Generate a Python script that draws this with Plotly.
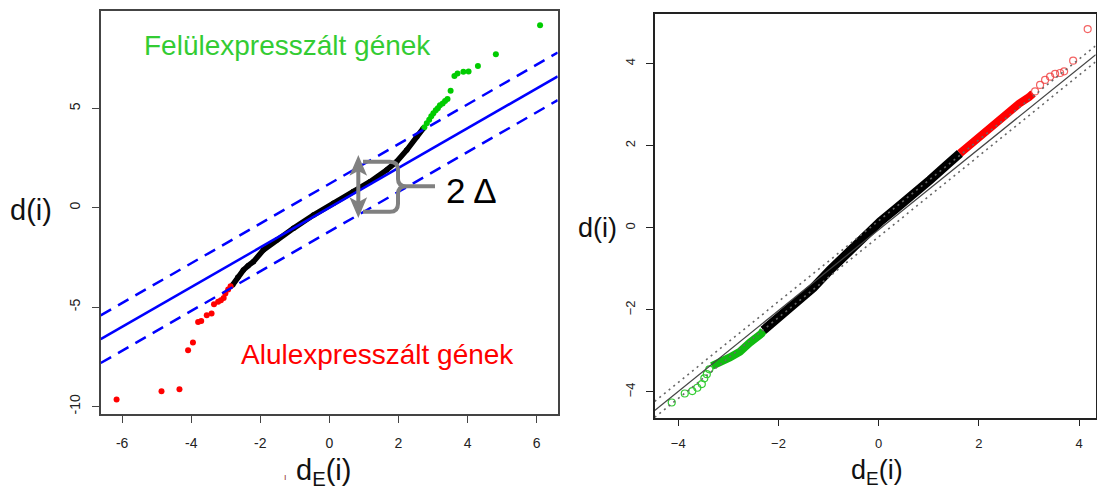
import plotly.graph_objects as go

W, H = 1097, 489

# ---------------- Left panel data ----------------
left_black_x = [-2.80, -2.65, -2.49, -2.35, -2.20, -1.91, -1.52, -1.04, -0.46, 0.12, 0.69, 1.18, 1.66, 1.95, 2.24, 2.53, 2.72]
left_black_y = [-3.89, -3.50, -3.14, -2.92, -2.72, -2.13, -1.63, -1.04, -0.37, 0.22, 0.81, 1.31, 1.90, 2.32, 2.90, 3.57, 4.00]

left_green_x = [2.75, 2.82, 2.89, 2.95, 3.01, 3.08, 3.14, 3.20, 3.28, 3.35, 3.42, 3.51, 3.62, 3.71, 3.88, 4.03, 4.30, 4.82, 6.10]
left_green_y = [4.05, 4.25, 4.42, 4.60, 4.75, 4.90, 5.00, 5.15, 5.25, 5.37, 5.47, 5.89, 6.63, 6.76, 6.84, 6.86, 7.13, 7.72, 9.18]

left_red_x = [-2.86, -2.93, -3.01, -3.06, -3.14, -3.22, -3.34, -3.41, -3.55, -3.71, -3.80, -3.95, -4.09, -4.34, -4.86, -6.16]
left_red_y = [-3.95, -4.12, -4.32, -4.54, -4.66, -4.74, -4.86, -5.33, -5.41, -5.70, -5.75, -6.79, -7.18, -9.14, -9.24, -9.65]

left_delta = 1.2
left_xrange = [-6.62, 6.61]
left_yrange = [-10.4, 9.9]

left_xticks = [-6, -4, -2, 0, 2, 4, 6]
left_xticktext = ["-6", "-4", "-2", "0", "2", "4", "6"]
left_yticks = [-10, -5, 0, 5]
left_yticktext = ["-10", "-5", "0", "5"]

# ---------------- Right panel data ----------------
right_black_x = [-2.30, -1.97, -1.65, -1.305, -0.97, -0.64, -0.30, 0.03, 0.36, 0.69, 1.02, 1.36, 1.62]
right_black_y = [-2.50, -2.17, -1.82, -1.46, -1.03, -0.62, -0.24, 0.15, 0.48, 0.80, 1.16, 1.53, 1.81]

right_green_band_x = [-2.30, -2.34, -2.57, -2.77, -2.97, -3.17, -3.33]
right_green_band_y = [-2.50, -2.58, -2.80, -3.02, -3.16, -3.27, -3.37]
right_green_open_x = [-3.38, -3.43, -3.48, -3.53, -3.62, -3.72, -3.87, -4.13]
right_green_open_y = [-3.45, -3.57, -3.67, -3.81, -3.90, -3.98, -4.04, -4.26]

right_red_band_x = [1.62, 1.80, 2.00, 2.20, 2.40, 2.60, 2.80, 3.00, 3.08]
right_red_band_y = [1.81, 2.00, 2.21, 2.43, 2.64, 2.83, 3.02, 3.18, 3.27]
right_red_open_x = [3.12, 3.22, 3.32, 3.42, 3.52, 3.62, 3.70, 3.88, 4.17]
right_red_open_y = [3.32, 3.48, 3.60, 3.68, 3.75, 3.77, 3.81, 4.07, 4.84]

right_slope, right_intercept = 0.985, -0.05
right_delta_up, right_delta_lo = 0.22, 0.17
right_xrange = [-4.47, 4.33]
right_yrange = [-4.63, 5.20]

right_xticks = [-4, -2, 0, 2, 4]
right_xticktext = ["\u22124", "\u22122", "0", "2", "4"]
right_yticks = [-4, -2, 0, 2, 4]
right_yticktext = ["\u22124", "\u22122", "0", "2", "4"]

FONT = "Liberation Sans, Arial, sans-serif"


def px(x):
    return x / W


def py(y):
    return 1 - y / H


fig = go.Figure()

# ---- left panel points ----
fig.add_trace(go.Scatter(x=left_black_x, y=left_black_y, mode="lines+markers",
                         line=dict(color="black", width=5.5), marker=dict(color="black", size=5.5),
                         xaxis="x", yaxis="y", showlegend=False))
fig.add_trace(go.Scatter(x=left_green_x, y=left_green_y, mode="markers",
                         marker=dict(color="#00cc00", size=6),
                         xaxis="x", yaxis="y", showlegend=False))
fig.add_trace(go.Scatter(x=left_red_x, y=left_red_y, mode="markers",
                         marker=dict(color="#ff0000", size=6),
                         xaxis="x", yaxis="y", showlegend=False))

# ---- left panel reference lines ----
lx = left_xrange
for off, dash in [(0, "solid"), (left_delta, "12px,8px"), (-left_delta, "12px,8px")]:
    fig.add_trace(go.Scatter(x=lx, y=[lx[0] + off, lx[1] + off], mode="lines",
                             line=dict(color="#0000ff", width=2.5, dash=dash),
                             xaxis="x", yaxis="y", showlegend=False))

# ---- right panel points ----
fig.add_trace(go.Scatter(x=right_green_band_x, y=right_green_band_y, mode="lines",
                         line=dict(color="#11bb11", width=8),
                         xaxis="x2", yaxis="y2", showlegend=False))
fig.add_trace(go.Scatter(x=right_green_open_x, y=right_green_open_y, mode="markers",
                         marker=dict(symbol="circle-open", color="#33cc33", size=7, line=dict(width=1.2)),
                         xaxis="x2", yaxis="y2", showlegend=False))
fig.add_trace(go.Scatter(x=right_red_band_x, y=right_red_band_y, mode="lines",
                         line=dict(color="#ff0000", width=8),
                         xaxis="x2", yaxis="y2", showlegend=False))
fig.add_trace(go.Scatter(x=right_red_open_x, y=right_red_open_y, mode="markers",
                         marker=dict(symbol="circle-open", color="rgba(240,60,60,0.8)", size=7, line=dict(width=1.2)),
                         xaxis="x2", yaxis="y2", showlegend=False))
fig.add_trace(go.Scatter(x=right_black_x, y=right_black_y, mode="lines",
                         line=dict(color="black", width=9),
                         xaxis="x2", yaxis="y2", showlegend=False))

# ---- right panel reference lines ----
rx = right_xrange
for off, dash, col, wd in [(0, "solid", "#444444", 1.2),
                           (right_delta_up, "2px,4px", "#666666", 1.6),
                           (-right_delta_lo, "2px,4px", "#666666", 1.6)]:
    fig.add_trace(go.Scatter(x=rx, y=[right_slope * rx[0] + right_intercept + off,
                                      right_slope * rx[1] + right_intercept + off],
                             mode="lines", line=dict(color=col, width=wd, dash=dash),
                             xaxis="x2", yaxis="y2", showlegend=False))

axis_common = dict(showgrid=False, zeroline=False, showline=True, mirror=True,
                   ticks="outside", ticklen=7, tickwidth=1.3)

fig.update_layout(
    width=W, height=H,
    margin=dict(l=0, r=0, t=0, b=0),
    paper_bgcolor="white", plot_bgcolor="white",
    font=dict(family=FONT, color="#222222"),
    xaxis=dict(domain=[px(100.7), px(557.7)], range=left_xrange, anchor="y",
               tickvals=left_xticks, ticktext=left_xticktext, tickfont=dict(size=14),
               linecolor="#444444", linewidth=1.5, tickcolor="#444444", ticklabelstandoff=8,
               **axis_common),
    yaxis=dict(domain=[py(414.3), py(11)], range=left_yrange, anchor="x",
               tickvals=left_yticks, ticktext=left_yticktext, tickfont=dict(size=14),
               tickangle=-90, linecolor="#444444", linewidth=1.5, tickcolor="#444444",
               ticklabelstandoff=6, **axis_common),
    xaxis2=dict(domain=[px(654.7), px(1095.7)], range=right_xrange, anchor="y2",
                tickvals=right_xticks, ticktext=right_xticktext, tickfont=dict(size=13),
                linecolor="#222222", linewidth=1.5, tickcolor="#222222", ticklabelstandoff=6,
                **axis_common),
    yaxis2=dict(domain=[py(417.7), py(14.3)], range=right_yrange, anchor="x2",
                tickvals=right_yticks, ticktext=right_yticktext, tickfont=dict(size=13),
                tickangle=-90, linecolor="#222222", linewidth=1.5, tickcolor="#222222",
                ticklabelstandoff=6, **axis_common),
)

ann = []


def text(x, y, s, size, color="#111111"):
    ann.append(dict(x=px(x), y=py(y), xref="paper", yref="paper", text=s, showarrow=False,
                    xanchor="center", yanchor="middle", font=dict(size=size, color=color, family=FONT)))


text(31, 210, "d(i)", 29)
text(323, 472, "d<sub>E</sub>(i)", 29)
text(285, 477, "ı", 9, "#8b2a10")
text(597, 228, "d(i)", 27)
text(877, 472, "d<sub>E</sub>(i)", 27)
text(287.5, 46, "Felülexpresszált gének", 28, "#33cc33")
text(377, 354, "Alulexpresszált gének", 28, "#ff0000")
text(471, 190, "2 \u0394", 35, "#000000")
fig.update_layout(annotations=ann)

# ---- gray double arrow and brace (pixel-space drawing, converted to paper) ----
GRAY = "#808080"


def path(points_cmds):
    out = []
    for c in points_cmds:
        if isinstance(c, str):
            out.append(c)
        else:
            out.append(f"{px(c[0]):.5f},{py(c[1]):.5f}")
    return " ".join(out)


shapes = []
# shaft
shapes.append(dict(type="line", xref="paper", yref="paper", x0=px(358.3), y0=py(168), x1=px(358.3), y1=py(205),
                   line=dict(color=GRAY, width=4)))
# heads
shapes.append(dict(type="path", xref="paper", yref="paper",
                   path=path(["M", (358.3, 157), "L", (351, 174), "L", (358.3, 170), "L", (365.6, 174), "Z"]),
                   fillcolor=GRAY, line=dict(color=GRAY, width=1.5)))
shapes.append(dict(type="path", xref="paper", yref="paper",
                   path=path(["M", (358.3, 216), "L", (351, 199), "L", (358.3, 203), "L", (365.6, 199), "Z"]),
                   fillcolor=GRAY, line=dict(color=GRAY, width=1.5)))
# brace
shapes.append(dict(type="path", xref="paper", yref="paper",
                   path=path(["M", (363, 161.7), "L", (390, 161.7), "Q", (398, 161.7), (398, 169.7),
                              "L", (398, 179), "Q", (398, 186), (406, 186.3), "L", (435, 186.3),
                              "M", (406, 186.3), "Q", (398, 186.6), (398, 194),
                              "L", (398, 203.7), "Q", (398, 211.7), (390, 211.7), "L", (363, 211.7)]),
                   line=dict(color=GRAY, width=4)))
fig.update_layout(shapes=shapes)

fig.write_html("out.html")
